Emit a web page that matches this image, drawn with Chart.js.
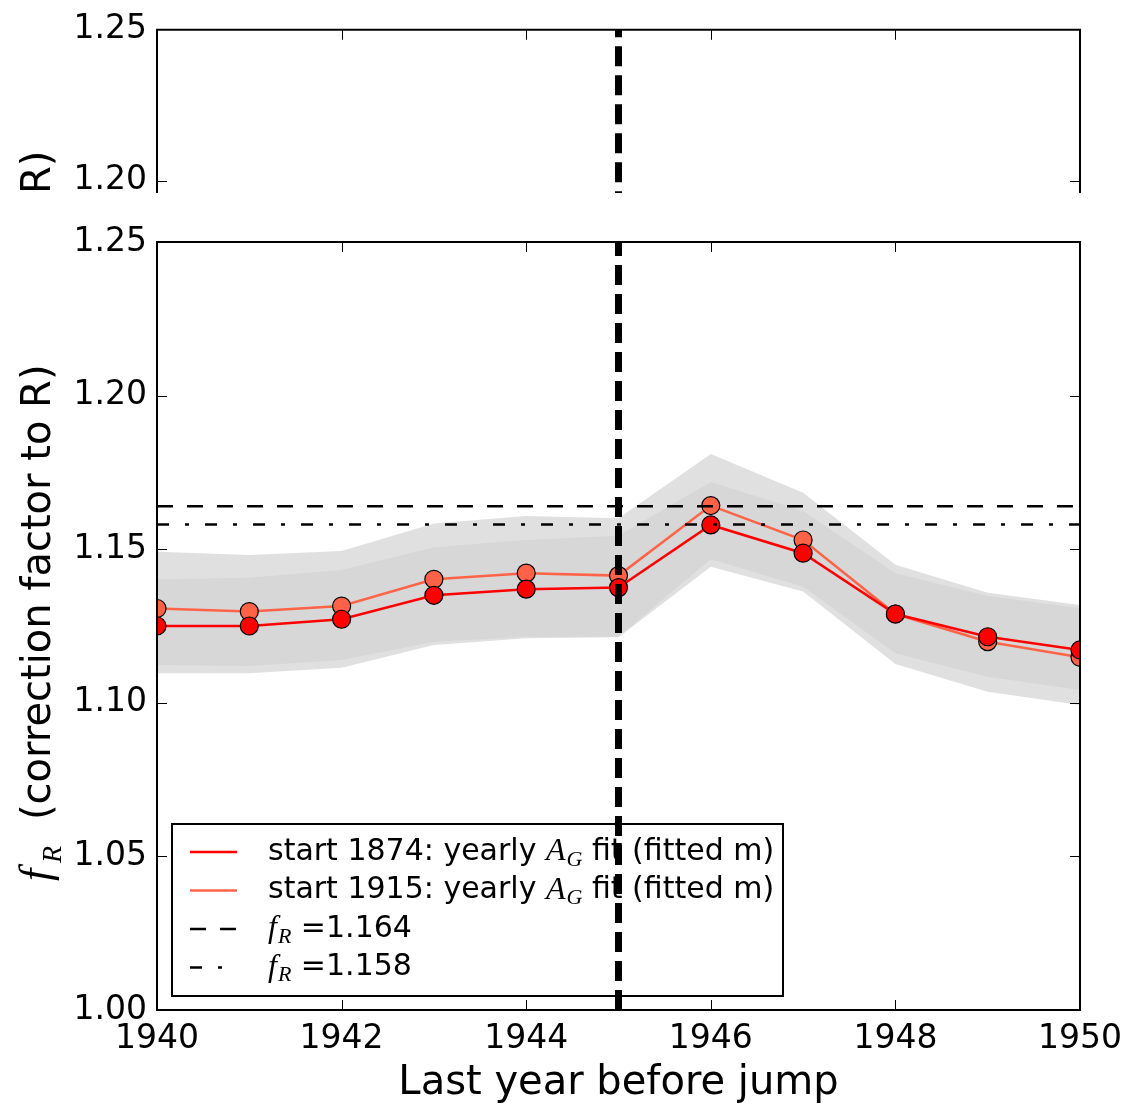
<!DOCTYPE html>
<html>
<head>
<meta charset="utf-8">
<script src="https://cdn.jsdelivr.net/npm/chart.js@4.4.1/dist/chart.umd.min.js"></script>
<style>
body { margin: 0; background: #fff; }
#wrap { position: relative; width: 1138px; height: 1106px; }
#wrap canvas { position: absolute; left: 0; top: 0; }
</style>
</head>
<body>
<div id="wrap">
  <canvas id="mainChart" width="1138" height="1106"></canvas>
  <canvas id="topChart" width="1138" height="1106"></canvas>
</div>
<script>
// data
var years = [1940, 1941, 1942, 1943, 1944, 1945, 1946, 1947, 1948, 1949, 1950];
var fR1874 = [1.1250, 1.1250, 1.1272, 1.1350, 1.1370, 1.1375, 1.1579, 1.1487, 1.1289, 1.1215, 1.1172];
var fR1915 = [1.1307, 1.1297, 1.1315, 1.1402, 1.1422, 1.1414, 1.1642, 1.1530, 1.1289, 1.1199, 1.1148];
// uncertainty bands (two overlapping grey bands)
var bandALo = [1.1096, 1.1096, 1.1114, 1.1188, 1.1210, 1.1213, 1.1443, 1.1362, 1.1126, 1.1036, 1.0993];
var bandAHi = [1.1402, 1.1407, 1.1432, 1.1506, 1.1530, 1.1544, 1.1719, 1.1624, 1.1422, 1.1348, 1.1308];
var bandBLo = [1.1123, 1.1120, 1.1139, 1.1199, 1.1215, 1.1215, 1.1467, 1.1378, 1.1161, 1.1085, 1.1042];
var bandBHi = [1.1492, 1.1481, 1.1494, 1.1584, 1.1608, 1.1601, 1.1810, 1.1684, 1.1449, 1.1358, 1.1318];
var fitLevels = [1.164, 1.158];
var jumpYear = 1945;
var xTicks = [1940, 1942, 1944, 1946, 1948, 1950];
var yTicksMain = [1.00, 1.05, 1.10, 1.15, 1.20, 1.25];
var yTicksTop = [1.20, 1.25];

Chart.defaults.font.family = "'DejaVu Sans', sans-serif";
Chart.defaults.color = '#000';

var bandColor = 'rgba(211,211,211,0.7)';
var mathFont = "'Liberation Serif', 'DejaVu Serif', serif";

function pts(vals) {
    return years.map(function(y, i) { return {x: y, y: vals[i]}; });
}

function frame(opts) {
    return {
        id: 'frame',
        afterDatasetsDraw: function(chart) {
            var a = chart.chartArea, ctx = chart.ctx;
            var sx = chart.scales.x, sy = chart.scales.y;
            ctx.save();
            ctx.strokeStyle = '#000';
            ctx.lineWidth = 1;
            ctx.beginPath();
            xTicks.forEach(function(v) {
                var px = Math.round(sx.getPixelForValue(v)) + 0.5;
                ctx.moveTo(px, a.top); ctx.lineTo(px, a.top + 10);
                if (opts.bottom) { ctx.moveTo(px, a.bottom); ctx.lineTo(px, a.bottom - 10); }
            });
            opts.yTicks.forEach(function(v) {
                var py = Math.round(sy.getPixelForValue(v)) + 0.5;
                ctx.moveTo(a.left, py); ctx.lineTo(a.left + 10, py);
                ctx.moveTo(a.right, py); ctx.lineTo(a.right - 10, py);
            });
            ctx.stroke();
            ctx.lineWidth = 2;
            ctx.beginPath();
            if (opts.bottom) {
                ctx.rect(a.left, a.top, a.right - a.left, a.bottom - a.top);
            } else {
                ctx.moveTo(a.left, a.bottom); ctx.lineTo(a.left, a.top);
                ctx.lineTo(a.right, a.top); ctx.lineTo(a.right, a.bottom);
            }
            ctx.stroke();
            ctx.restore();
        }
    };
}

// text with an italic symbol and subscript, e.g. A_G or f_R
function mathLabel(ctx, x, y, pre, sym, sub, post, size, symSize, subSize, subDrop) {
    ctx.font = size + "px 'DejaVu Sans'";
    ctx.fillText(pre, x, y);
    x += ctx.measureText(pre).width;
    ctx.font = 'italic ' + symSize + 'px ' + mathFont;
    ctx.fillText(sym, x, y);
    x += ctx.measureText(sym).width + 1;
    ctx.font = 'italic ' + subSize + 'px ' + mathFont;
    ctx.fillText(sub, x, y + subDrop);
    x += ctx.measureText(sub).width;
    ctx.font = size + "px 'DejaVu Sans'";
    ctx.fillText(post, x, y);
}

var legendPlugin = {
    id: 'mathLegend',
    beforeDatasetsDraw: function(chart) {
        var a = chart.chartArea, ctx = chart.ctx;
        var ds = chart.data.datasets;
        var bx = a.left + 15, by = a.bottom - 186, bw = 611, bh = 172;
        var rows = [
            {ds: ds[5], pre: 'start 1874: yearly ', sym: 'A', sub: 'G', post: ' fit (fitted m)'},
            {ds: ds[4], pre: 'start 1915: yearly ', sym: 'A', sub: 'G', post: ' fit (fitted m)'},
            {ds: ds[6], pre: '', sym: 'f', sub: 'R', post: ' =1.164'},
            {ds: ds[7], pre: '', sym: 'f', sub: 'R', post: ' =1.158'}
        ];
        ctx.save();
        ctx.fillStyle = '#fff';
        ctx.fillRect(bx, by, bw, bh);
        ctx.strokeStyle = '#000';
        ctx.lineWidth = 2;
        ctx.strokeRect(bx, by, bw, bh);
        rows.forEach(function(r, i) {
            var y = by + 28 + i * 38.5;
            ctx.beginPath();
            ctx.setLineDash(r.ds.borderDash || []);
            ctx.strokeStyle = r.ds.borderColor;
            ctx.lineWidth = r.ds.borderWidth;
            ctx.moveTo(bx + 18, y);
            ctx.lineTo(bx + 65, y);
            ctx.stroke();
            ctx.setLineDash([]);
            ctx.fillStyle = '#000';
            ctx.textBaseline = 'middle';
            ctx.textAlign = 'left';
            mathLabel(ctx, bx + 96, y, r.pre, r.sym, r.sub, r.post, 30, 32, 22, 8);
        });
        ctx.restore();
    }
};

var yTitlePlugin = {
    id: 'yTitle',
    afterDraw: function(chart) {
        var ctx = chart.ctx;
        ctx.save();
        ctx.translate(0, 883);
        ctx.rotate(-Math.PI / 2);
        ctx.fillStyle = '#000';
        ctx.textBaseline = 'alphabetic';
        ctx.textAlign = 'left';
        ctx.font = 'italic 44px ' + mathFont;
        ctx.fillText('f', 2, 50);
        ctx.font = 'italic 28px ' + mathFont;
        ctx.fillText('R', 20, 61);
        ctx.font = "40px 'DejaVu Sans'";
        ctx.fillText('(correction factor to R)', 63, 50);
        ctx.restore();
    }
};

var topTitlePlugin = {
    id: 'topTitle',
    afterDraw: function(chart) {
        var ctx = chart.ctx;
        ctx.save();
        ctx.translate(0, 194);
        ctx.rotate(-Math.PI / 2);
        ctx.fillStyle = '#000';
        ctx.textBaseline = 'alphabetic';
        ctx.textAlign = 'left';
        ctx.font = "40px 'DejaVu Sans'";
        ctx.fillText('R)', 0, 50);
        ctx.restore();
    }
};

function flat(vals, col, dash, width, order) {
    return {
        data: vals, borderColor: col, borderDash: dash, borderWidth: width,
        pointRadius: 0, fill: false, order: order, clip: 0
    };
}

var mainChart = new Chart(document.getElementById('mainChart').getContext('2d'), {
    type: 'line',
    data: {
        datasets: [
            {data: pts(bandALo), borderWidth: 0, pointRadius: 0, fill: false, order: 6, clip: 0},
            {data: pts(bandAHi), borderWidth: 0, pointRadius: 0, fill: '-1', backgroundColor: bandColor, order: 6, clip: 0},
            {data: pts(bandBLo), borderWidth: 0, pointRadius: 0, fill: false, order: 6, clip: 0},
            {data: pts(bandBHi), borderWidth: 0, pointRadius: 0, fill: '-1', backgroundColor: bandColor, order: 6, clip: 0},
            {
                data: pts(fR1915), borderColor: '#ff6347', borderWidth: 2.5,
                pointRadius: 9, pointBackgroundColor: '#ff6347', pointBorderColor: '#000',
                pointBorderWidth: 1.2, fill: false, order: 4, clip: 0
            },
            {
                data: pts(fR1874), borderColor: '#ff0000', borderWidth: 2.5,
                pointRadius: 9, pointBackgroundColor: '#ff0000', pointBorderColor: '#000',
                pointBorderWidth: 1.2, fill: false, order: 3, clip: 0
            },
            flat([{x: years[0], y: fitLevels[0]}, {x: years[years.length - 1], y: fitLevels[0]}], '#000', [16, 14], 2.5, 2),
            flat([{x: years[0], y: fitLevels[1]}, {x: years[years.length - 1], y: fitLevels[1]}], '#000', [12, 16, 4, 16], 2.5, 2),
            flat([{x: jumpYear, y: 1.0}, {x: jumpYear, y: 1.25}], '#000', [20, 9], 7, 1)
        ]
    },
    options: {
        responsive: false,
        animation: false,
        events: [],
        layout: {padding: {top: 242, right: 58, left: 0, bottom: 0}},
        plugins: {legend: {display: false}, tooltip: {enabled: false}},
        scales: {
            x: {
                type: 'linear', min: 1940, max: 1950,
                afterBuildTicks: function(s) { s.ticks = xTicks.map(function(v) { return {value: v}; }); },
                afterFit: function(s) { s.height = 96; },
                grid: {display: false, drawTicks: false},
                border: {display: false},
                ticks: {font: {size: 33}, padding: 10, maxRotation: 0, callback: function(v) { return String(v); }},
                title: {display: true, text: 'Last year before jump', font: {size: 40}, padding: {top: 0, bottom: -2}}
            },
            y: {
                type: 'linear', min: 1.0, max: 1.25,
                afterBuildTicks: function(s) { s.ticks = yTicksMain.map(function(v) { return {value: v}; }); },
                afterFit: function(s) { s.width = 157; },
                grid: {display: false, drawTicks: false},
                border: {display: false},
                ticks: {font: {size: 33}, padding: 10, callback: function(v) { return v.toFixed(2); }}
            }
        }
    },
    plugins: [legendPlugin, frame({bottom: true, yTicks: yTicksMain}), yTitlePlugin]
});

var topChart = new Chart(document.getElementById('topChart').getContext('2d'), {
    type: 'line',
    data: {
        datasets: [
            flat([{x: jumpYear, y: 1.19}, {x: jumpYear, y: 1.25}], '#000', [20, 9], 7, 1)
        ]
    },
    options: {
        responsive: false,
        animation: false,
        events: [],
        layout: {padding: {top: 26, right: 58, left: 0, bottom: 913}},
        plugins: {legend: {display: false}, tooltip: {enabled: false}},
        scales: {
            x: {type: 'linear', min: 1940, max: 1950, display: false},
            y: {
                type: 'linear', min: 1.196, max: 1.25,
                afterBuildTicks: function(s) { s.ticks = yTicksTop.map(function(v) { return {value: v}; }); },
                afterFit: function(s) { s.width = 157; },
                grid: {display: false, drawTicks: false},
                border: {display: false},
                ticks: {font: {size: 33}, padding: 10, callback: function(v) { return v.toFixed(2); }}
            }
        }
    },
    plugins: [frame({bottom: false, yTicks: [1.20]}), topTitlePlugin]
});
</script>
</body>
</html>
